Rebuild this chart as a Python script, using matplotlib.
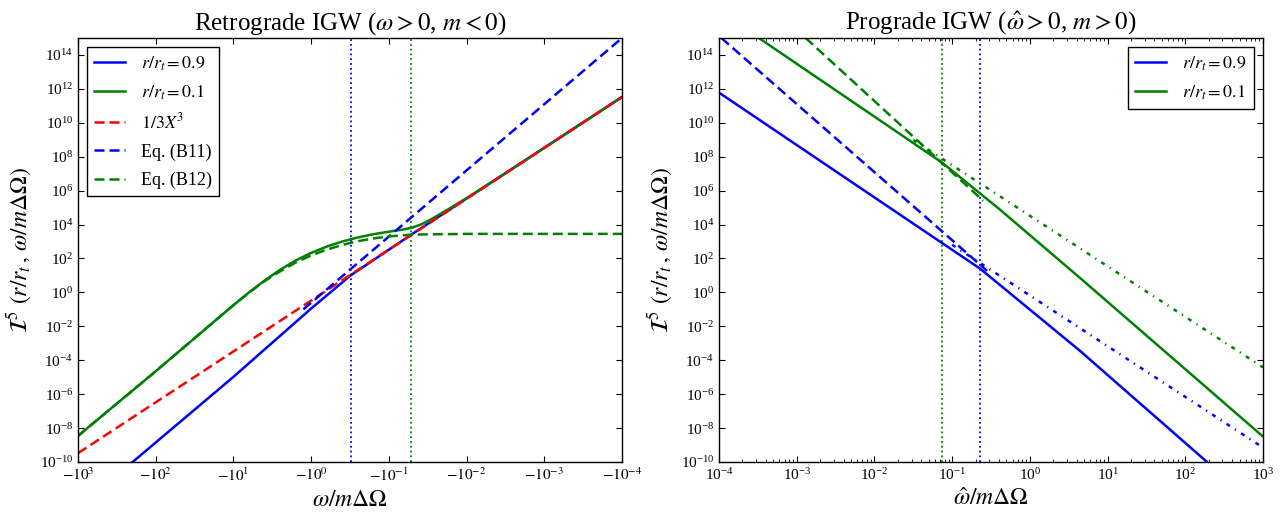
import numpy as np
import matplotlib
matplotlib.use('Agg')
import matplotlib.pyplot as plt
from matplotlib.ticker import FixedLocator, FuncFormatter, NullLocator, LogLocator

plt.rcParams['font.family'] = ['Liberation Serif', 'DejaVu Serif']
plt.rcParams['mathtext.fontset'] = 'stix'
plt.rcParams['xtick.direction'] = 'in'
plt.rcParams['ytick.direction'] = 'in'
plt.rcParams['xtick.top'] = True
plt.rcParams['ytick.right'] = True
plt.rcParams['xtick.major.size'] = 4
plt.rcParams['ytick.major.size'] = 4
plt.rcParams['xtick.minor.size'] = 2
plt.rcParams['ytick.minor.size'] = 2
plt.rcParams['axes.linewidth'] = 1.0

# values, all as log10
# retrograde panel: x is log10|omega/m dOmega|
retro_x_09 = [2.297, 1.0, 0.0, -0.3, -0.5, -0.8, -1.28, -4.0]
retro_y_09 = [-10.0, -4.98, -0.95, 0.2, 0.98, 1.9, 3.38, 11.52]
retro_x_01 = [3.0, 2.0, 1.0, 0.8, 0.6, 0.4, 0.2, 0.0, -0.2, -0.4, -0.6, -0.8, -1.0,
              -1.2, -1.3, -1.4, -1.5, -1.6, -1.8, -2.0, -2.4, -4.0]
retro_y_01 = [-8.46, -4.65, -0.75, 0.0, 0.7, 1.33, 1.88, 2.33, 2.7, 3.0, 3.24, 3.43, 3.58,
              3.72, 3.82, 3.98, 4.2, 4.46, 5.0, 5.56, 6.72, 11.52]
retro_x_fit = [3.0, -4.0]
retro_y_fit = [-9.48, 11.52]
retro_x_b11 = [0.1, -4.0]
retro_y_b11 = [-1.0, 15.0]
retro_x_b12 = [3.0, 2.0, 1.0, 0.8, 0.6, 0.4, 0.2, 0.0, -0.2, -0.4, -0.6, -0.8, -1.0, -1.3, -2.0, -4.0]
retro_y_b12 = [-8.46, -4.65, -0.75, -0.02, 0.66, 1.24, 1.76, 2.18, 2.52, 2.8, 3.02, 3.18, 3.3, 3.41, 3.45, 3.45]
retro_vline_09 = -0.517
retro_vline_01 = -1.28

# prograde panel: x is log10(omega_hat/m dOmega)
pro_x_09 = [-4.0, -2.0, -0.64, 0.646, 2.28]
pro_y_09 = [11.78, 5.6, 1.4, -3.45, -10.0]
pro_x_01 = [-3.494, -1.126, -0.384, 0.646, 3.0]
pro_y_01 = [15.02, 7.64, 4.88, 0.85, -8.5]
pro_x_dash_09 = [-3.97, -0.55]
pro_y_dash_09 = [15.0, 1.27]
pro_x_dash_01 = [-2.885, -0.6]
pro_y_dash_01 = [15.0, 5.4]
pro_x_dd_09 = [-1.0, 3.0]
pro_y_dd_09 = [2.81, -9.15]
pro_x_dd_01 = [-1.5, 3.0]
pro_y_dd_01 = [8.99, -4.42]
pro_vline_09 = -0.641
pro_vline_01 = -1.126


def p(v):
    return 10.0 ** np.array(v)


dash = (0, (4.0, 2.0))
dashdot = (0, (1.6, 2.4, 0.5, 2.4))
lw = 1.8
vlw = 1.3

fig = plt.figure(figsize=(12.82, 5.19), dpi=100)
ax1 = fig.add_axes([78 / 1282, 57 / 519, 544 / 1282, 424 / 519])
ax2 = fig.add_axes([719 / 1282, 57 / 519, 544 / 1282, 424 / 519])

# left: retrograde
ax1.axvline(p(retro_vline_09), color='b', ls=':', lw=vlw)
ax1.axvline(p(retro_vline_01), color='g', ls=':', lw=vlw)
ax1.plot(p(retro_x_09), p(retro_y_09), 'b-', lw=lw, label=r'$r/r_t=0.9$')
ax1.plot(p(retro_x_01), p(retro_y_01), 'g-', lw=lw, label=r'$r/r_t=0.1$')
ax1.plot(p(retro_x_fit), p(retro_y_fit), color='r', ls=dash, lw=lw, label=r'$1/3X^3$')
ax1.plot(p(retro_x_b11), p(retro_y_b11), color='b', ls=dash, lw=lw, label='Eq. (B11)')
ax1.plot(p(retro_x_b12), p(retro_y_b12), color='g', ls=dash, lw=lw, label='Eq. (B12)')

ax1.set_xscale('log')
ax1.set_yscale('log')
ax1.set_xlim(1e3, 1e-4)
ax1.set_ylim(1e-10, 1e15)
ax1.xaxis.set_major_locator(FixedLocator(10.0 ** np.arange(-4, 4)))
ax1.xaxis.set_minor_locator(NullLocator())
ax1.xaxis.set_major_formatter(FuncFormatter(lambda v, pos: r'$-10^{%d}$' % round(np.log10(v))))
ax1.set_title(r'Retrograde IGW ($\omega>0$, $m<0$)', fontsize=18)
ax1.set_xlabel(r'$\omega/m\Delta\Omega$', fontsize=17)
ax1.set_ylabel(r'$\mathcal{I}^5\ (r/r_t\,,\,\omega/m\Delta\Omega)$', fontsize=17)
leg1 = ax1.legend(loc='upper left', fontsize=13, handlelength=1.7, handletextpad=0.9,
                  labelspacing=0.6, fancybox=False, framealpha=1)
leg1.get_frame().set_edgecolor('k')

# right: prograde
ax2.axvline(p(pro_vline_01), color='g', ls=':', lw=vlw)
ax2.axvline(p(pro_vline_09), color='b', ls=':', lw=vlw)
ax2.plot(p(pro_x_09), p(pro_y_09), 'b-', lw=lw, label=r'$r/r_t=0.9$')
ax2.plot(p(pro_x_01), p(pro_y_01), 'g-', lw=lw, label=r'$r/r_t=0.1$')
ax2.plot(p(pro_x_dash_09), p(pro_y_dash_09), color='b', ls=dash, lw=lw)
ax2.plot(p(pro_x_dash_01), p(pro_y_dash_01), color='g', ls=dash, lw=lw)
ax2.plot(p(pro_x_dd_09), p(pro_y_dd_09), color='b', ls=dashdot, lw=lw)
ax2.plot(p(pro_x_dd_01), p(pro_y_dd_01), color='g', ls=dashdot, lw=lw)

ax2.set_xscale('log')
ax2.set_yscale('log')
ax2.set_xlim(1e-4, 1e3)
ax2.set_ylim(1e-10, 1e15)
ax2.xaxis.set_major_locator(FixedLocator(10.0 ** np.arange(-4, 4)))
ax2.xaxis.set_minor_locator(LogLocator(base=10, subs=np.arange(2, 10), numticks=50))
ax2.set_title(r'Prograde IGW ($\hat{\omega}>0$, $m>0$)', fontsize=18)
ax2.set_xlabel(r'$\hat{\omega}/m\Delta\Omega$', fontsize=17)
ax2.set_ylabel(r'$\mathcal{I}^5\ (r/r_t\,,\,\omega/m\Delta\Omega)$', fontsize=17)
leg2 = ax2.legend(loc='upper right', fontsize=13, handlelength=1.7, handletextpad=0.9,
                  labelspacing=0.6, fancybox=False, framealpha=1)
leg2.get_frame().set_edgecolor('k')

for ax in (ax1, ax2):
    ax.yaxis.set_major_locator(FixedLocator(10.0 ** np.arange(-10, 15, 2)))
    ax.yaxis.set_minor_locator(NullLocator())
    ax.tick_params(labelsize=11)

fig.savefig('out.png', dpi=100)
